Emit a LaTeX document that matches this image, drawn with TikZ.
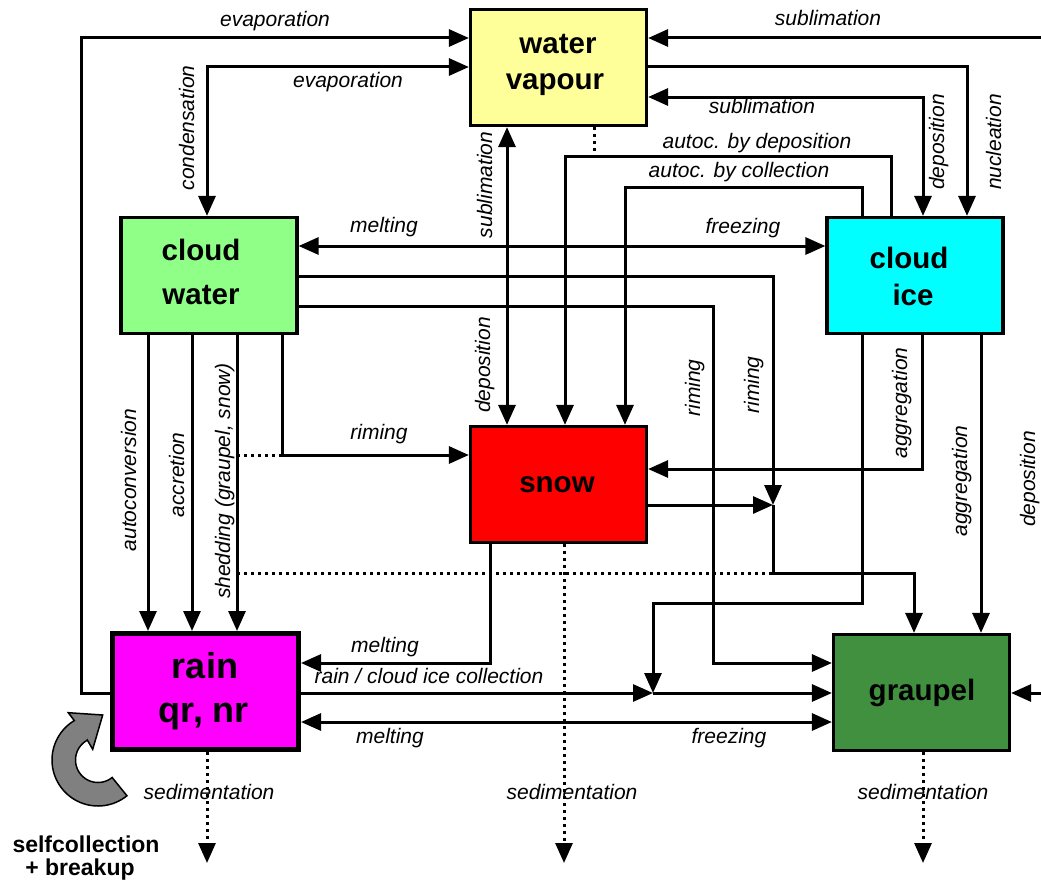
\documentclass[tikz,border=0pt]{standalone}
\usepackage{fontspec}
\setmainfont{Liberation Sans}
\usetikzlibrary{arrows.meta}
\definecolor{vapc}{HTML}{FFFF99}
\definecolor{cwc}{HTML}{90FF88}
\definecolor{cic}{HTML}{00FFFF}
\definecolor{snc}{HTML}{FF0000}
\definecolor{rnc}{HTML}{FF00FF}
\definecolor{grc}{HTML}{40903F}
\definecolor{arrc}{HTML}{808080}
\begin{document}
\begin{tikzpicture}[x=1pt,y=-1pt,
  box/.style={draw=black, line width=3.2pt, inner sep=0pt, minimum width=176pt, minimum height=116pt},
  ln/.style={line width=3pt, line join=miter},
  arr/.style={ln, -{Triangle[length=20pt,width=17pt]}},
  barr/.style={ln, {Triangle[length=20pt,width=17pt]}-{Triangle[length=20pt,width=17pt]}},
  dot/.style={line width=3pt, dash pattern=on 3pt off 4pt},
  darr/.style={dot, -{Triangle[length=20pt,width=17pt]}},
  lab/.style={font=\fontsize{21}{24}\selectfont\itshape, inner sep=0pt, anchor=base},
  boxt/.style={font=\fontsize{29.5}{34}\selectfont\bfseries, inner sep=0pt, anchor=base},
]
\useasboundingbox (0,0) rectangle (1041,883);

% boxes
\node[box, fill=vapc] (vap) at (558.5,67.5) {};
\node[box, fill=cwc] (cw) at (209,275.5) {};
\node[box, fill=cic] (ci) at (915,275.5) {};
\node[box, fill=snc] (snow) at (558.5,484.5) {};
\node[box, fill=rnc, line width=5pt, minimum width=186pt] (rain) at (205.5,691.5) {};
\node[box, fill=grc] (gr) at (921.5,692.5) {};

% box texts
\node[boxt] (vapA) at (558,53) {water};
\node[boxt] (vapB) at (555,89) {vapour};
\node[boxt] (cwA) at (201,260) {cloud};
\node[boxt] (cwB) at (201,304) {water};
\node[boxt] (ciA) at (909,268) {cloud};
\node[boxt] (ciB) at (913,305) {ice};
\node[boxt] (snT) at (557,492) {snow};
\node[boxt, font=\fontsize{36}{40}\selectfont\bfseries] (rnA) at (205,678) {rain};
\node[boxt, font=\fontsize{36}{40}\selectfont\bfseries] (rnB) at (204,722) {qr, nr};
\node[boxt] (grT) at (922,700) {graupel};

% connectors
\draw[arr] (rain.west |- 0,693) -- (81,693) -- (81,38) -- (vap.west |- 0,38);
\draw[barr] (207,0 |- cw.north) -- (207,67) -- (vap.west |- 0,67);
\coordinate (edgeT) at (1041,38);
\draw[arr] (edgeT) -- (vap.east |- edgeT);
\draw[arr] (vap.east |- 0,67) -- (967,67) -- (967,0 |- ci.north);
\draw[barr] (vap.east |- 0,97) -- (923,97) -- (923,0 |- ci.north);
\draw[arr] (891,0 |- ci.north) -- (891,156) -- (565,156) -- (565,0 |- snow.north);
\draw[dot] (594,0 |- vap.south) -- (594,156);
\draw[arr] (862,0 |- ci.north) -- (862,187) -- (625,187) -- (625,0 |- snow.north);
\draw[barr] (507,0 |- vap.south) -- (507,0 |- snow.north);
\draw[barr] (cw.east |- 0,246) -- (ci.west |- 0,246);
\coordinate (j1) at (773,505);
\draw[arr] (cw.east |- 0,276) -- (773,276) -- (j1);
\draw[arr] (snow.east |- j1) -- (j1);
\draw[arr] (j1) -- (773,573) -- (914,573) -- (914,0 |- gr.north);
\draw[dot] (237,573) -- (773,573);
\draw[arr] (cw.east |- 0,306) -- (713,306) -- (713,663) -- (gr.west |- 0,663);
\coordinate (j2) at (653,693);
\draw[arr] (862,0 |- ci.south) -- (862,603) -- (653,603) -- (j2);
\draw[arr] (rain.east |- j2) -- (j2);
\draw[arr] (j2) -- (gr.west |- j2);
\draw[arr] (922,0 |- ci.south) -- (922,469) -- (snow.east |- 0,469);
\draw[arr] (981,0 |- ci.south) -- (981,0 |- gr.north);
\coordinate (edgeB) at (1041,693);
\draw[arr] (edgeB) -- (gr.east |- edgeB);
\draw[barr] (rain.east |- 0,722) -- (gr.west |- 0,722);
\draw[arr] (490,0 |- snow.south) -- (490,663) -- (rain.east |- 0,663);
\foreach \xx in {148,192,237} \draw[arr] (\xx,0 |- cw.south) -- (\xx,0 |- rain.north);
\draw[arr] (282,0 |- cw.south) -- (282,455) -- (snow.west |- 0,455);
\draw[dot] (237,455) -- (282,455);
\coordinate (s1) at (207,863);
\coordinate (s2) at (564,863);
\coordinate (s3) at (923,863);
\draw[darr] (207,0 |- rain.south) -- (s1);
\draw[darr] (564,0 |- snow.south) -- (s2);
\draw[darr] (923,0 |- gr.south) -- (s3);

% labels
\node[lab] (l1) at (275,27) {evaporation};
\node[lab] (l2) at (348,88) {evaporation};
\node[lab, rotate=90] (l3) at (194,128) {condensation};
\node[lab] (l4) at (828,26) {sublimation};
\node[lab] (l5) at (762,113) {sublimation};
\node[lab] (l6) at (757,148) {autoc. by deposition};
\node[lab] (l7) at (739,177) {autoc. by collection};
\node[lab, rotate=90] (l8) at (944,142) {deposition};
\node[lab, rotate=90] (l9) at (1001,142) {nucleation};
\node[lab, rotate=90] (l10) at (492,185) {sublimation};
\node[lab, rotate=90] (l11) at (490,365) {deposition};
\node[lab] (l12) at (384,232) {melting};
\node[lab] (l13) at (743,233) {freezing};
\node[lab] (l14) at (379,439) {riming};
\node[lab, rotate=90] (l15) at (700,388) {riming};
\node[lab, rotate=90] (l16) at (759,385) {riming};
\node[lab, rotate=90] (l17) at (907,403) {aggregation};
\node[lab, rotate=90] (l18) at (967,481) {aggregation};
\node[lab, rotate=90] (l19) at (1035,479) {deposition};
\node[lab, rotate=90] (l20) at (136,480) {autoconversion};
\node[lab, rotate=90] (l21) at (184,475) {accretion};
\node[lab, rotate=90] (l22) at (230,481) {shedding (graupel, snow)};
\node[lab] (l23) at (385,652) {melting};
\node[lab] (l24) at (429,683) {rain / cloud ice collection};
\node[lab] (l25) at (390,743) {melting};
\node[lab] (l26) at (729,743) {freezing};
\node[lab] (l27) at (209,799) {sedimentation};
\node[lab] (l28) at (572,799) {sedimentation};
\node[lab] (l29) at (923,799) {sedimentation};

% selfcollection arrow
\filldraw[fill=arrc, draw=black, line width=1.5pt, line join=miter]
  (102.7,715) -- (92.7,749.3) -- (87.3,740)
  -- plot[domain=119:309, samples=40] ({98+22.5*cos(\x)},{760-22.5*sin(\x)})
  -- plot[domain=0:188, samples=50] ({98+46*cos(309-\x)},{760-46*sin(309-\x)})
  -- (68.3,712.7) -- cycle;
\node[font=\fontsize{23}{26}\selectfont\bfseries, inner sep=0pt, anchor=base] (sc1) at (86,852) {selfcollection};
\node[font=\fontsize{23}{26}\selectfont\bfseries, inner sep=0pt, anchor=base] (sc2) at (80,875) {+ breakup};
\end{tikzpicture}
\end{document}
